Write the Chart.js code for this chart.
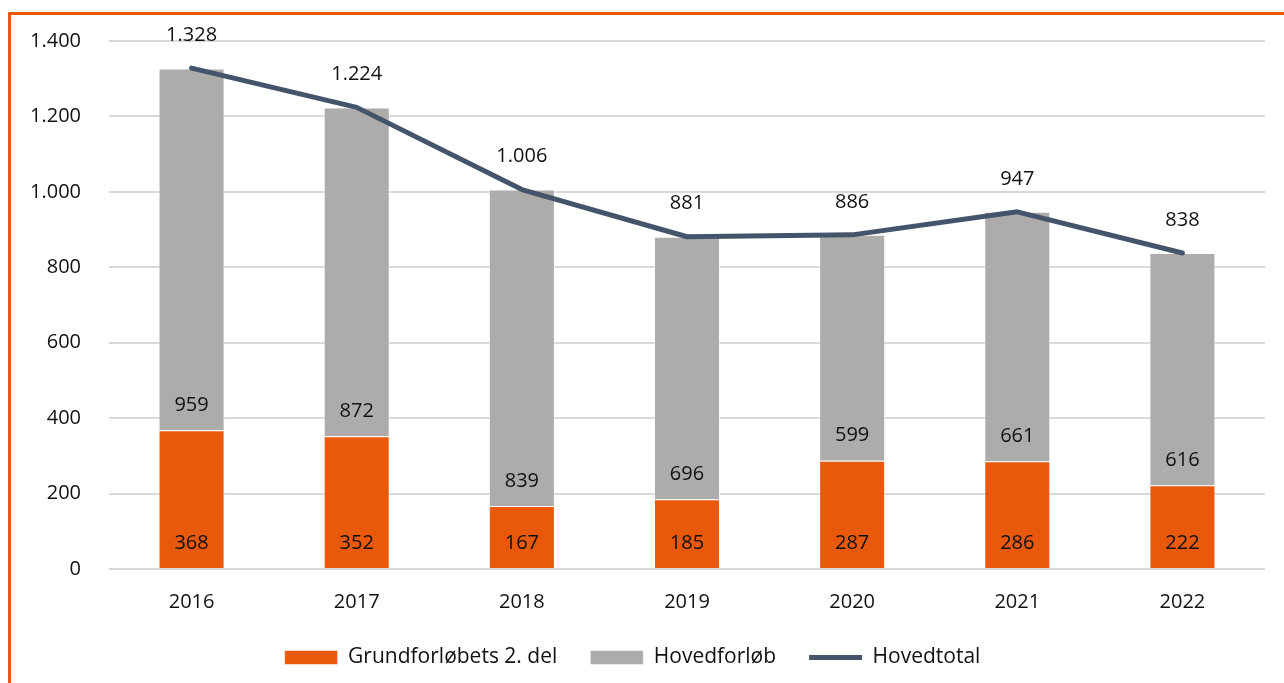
<!DOCTYPE html>
<html>
<head>
<meta charset="utf-8">
<script src="https://cdn.jsdelivr.net/npm/chart.js@4/dist/chart.umd.min.js"></script>
<style>
html, body { margin: 0; padding: 0; background: #fff; overflow: hidden; }
#frame { position: absolute; left: 8px; top: 12px; width: 1400px; height: 800px;
         border-left: 3px solid #E8590C; border-top: 3px solid #E8590C; }
#wrap { position: absolute; left: 0; top: 0; width: 1284px; height: 683px; }
</style>
</head>
<body>
<div id="frame"></div>
<div id="wrap"><canvas id="chart"></canvas></div>
<script>
// ---- data ----
const years = ['2016', '2017', '2018', '2019', '2020', '2021', '2022'];
const grundforloeb = [368, 352, 167, 185, 287, 286, 222];
const hovedforloeb = [959, 872, 839, 696, 599, 661, 616];
const hovedtotal = [1328, 1224, 1006, 881, 886, 947, 838];
const yTicks = [0, 200, 400, 600, 800, 1000, 1200, 1400];

const ORANGE = '#E8590C';
const GRAY = '#ADACAA';
const LINE = '#44546A';
const FONT = '"Open Sans", "Noto Sans", sans-serif';

// dansk tusindtalsseparator
function fmt(v) {
    return String(v).replace(/\B(?=(\d{3})+(?!\d))/g, '.');
}

// ---- værdietiketter ----
const valueLabels = {
    id: 'valueLabels',
    afterDatasetsDraw(chart) {
        const ctx = chart.ctx;
        ctx.save();
        ctx.font = '20px ' + FONT;
        ctx.fillStyle = '#111';
        ctx.textAlign = 'center';
        ctx.textBaseline = 'middle';
        chart.data.datasets.forEach((ds, di) => {
            const meta = chart.getDatasetMeta(di);
            meta.data.forEach((el, i) => {
                const v = ds.data[i];
                if (ds.type === 'line') {
                    ctx.fillText(fmt(v), el.x, el.y - 33);
                } else {
                    ctx.fillText(fmt(v), el.x, el.base - 25);
                }
            });
        });
        ctx.restore();
    }
};

// legenden: fast højde, så rækken ligger nederst
const legendHeight = {
    id: 'legendHeight',
    beforeInit(chart) {
        const fit = chart.legend.fit;
        chart.legend.fit = function () {
            fit.call(this);
            this.height = 69;
        };
    }
};

new Chart(document.getElementById('chart'), {
    type: 'bar',
    data: {
        labels: years,
        datasets: [
            {
                label: 'Grundforløbets 2. del',
                data: grundforloeb,
                backgroundColor: ORANGE,
                borderColor: 'rgba(255,255,255,0.55)',
                borderWidth: 1,
                pointStyle: 'rect',
                stack: 's',
                order: 1,
                barPercentage: 0.4,
                categoryPercentage: 1
            },
            {
                label: 'Hovedforløb',
                data: hovedforloeb,
                backgroundColor: GRAY,
                borderColor: 'rgba(255,255,255,0.55)',
                borderWidth: 1,
                pointStyle: 'rect',
                stack: 's',
                order: 1,
                barPercentage: 0.4,
                categoryPercentage: 1
            },
            {
                type: 'line',
                label: 'Hovedtotal',
                data: hovedtotal,
                borderColor: LINE,
                backgroundColor: LINE,
                borderWidth: 5,
                borderCapStyle: 'round',
                borderJoinStyle: 'round',
                pointRadius: 0,
                pointStyle: 'line',
                tension: 0,
                order: 0
            }
        ]
    },
    options: {
        responsive: true,
        maintainAspectRatio: false,
        animation: false,
        layout: { padding: { top: 41, right: 19, bottom: 0, left: 0 } },
        plugins: {
            tooltip: { enabled: false },
            legend: {
                position: 'bottom',
                labels: {
                    usePointStyle: true,
                    pointStyleWidth: 53,
                    boxHeight: 14,
                    padding: 33,
                    color: '#111',
                    font: { family: FONT, size: 21 },
                    sort: (a, b) => a.datasetIndex - b.datasetIndex
                }
            }
        },
        scales: {
            x: {
                stacked: true,
                afterFit: s => { s.height = 45; },
                grid: { display: false },
                border: { display: false },
                ticks: { color: '#111', padding: 13, font: { family: FONT, size: 20 } }
            },
            y: {
                stacked: true,
                min: 0,
                max: 1400,
                afterBuildTicks: s => { s.ticks = yTicks.map(v => ({ value: v })); },
                afterFit: s => { s.width = 109; },
                grid: { color: '#D9D9D9', lineWidth: 2, drawTicks: false },
                border: { display: false },
                ticks: {
                    color: '#111',
                    padding: 28,
                    font: { family: FONT, size: 20 },
                    callback: v => fmt(v)
                }
            }
        }
    },
    plugins: [valueLabels, legendHeight]
});
</script>
</body>
</html>
